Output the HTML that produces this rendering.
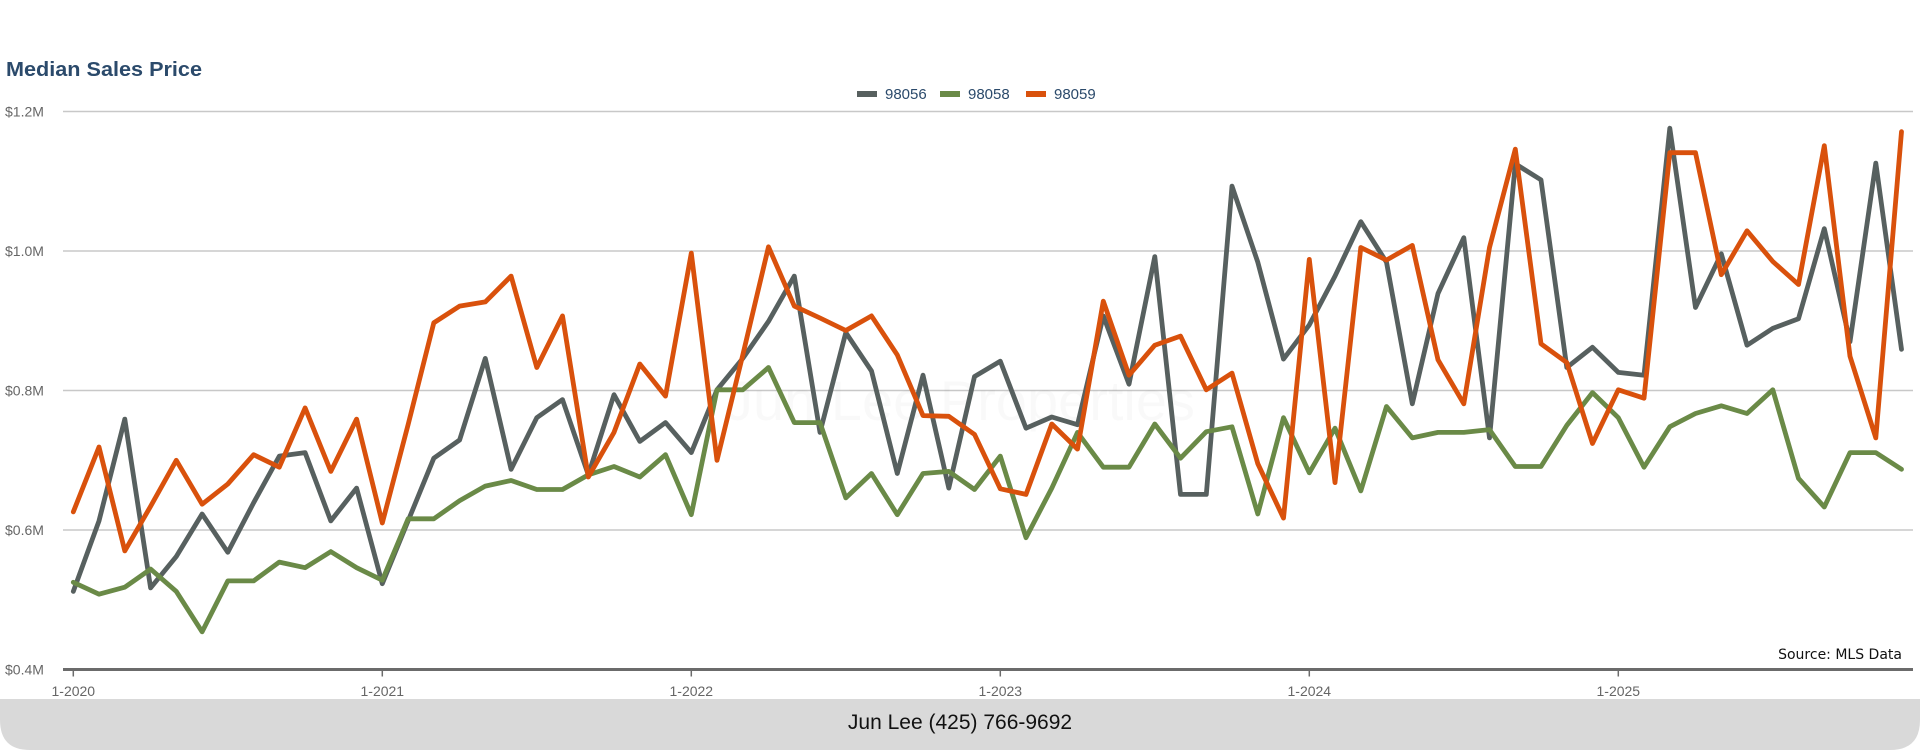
<!DOCTYPE html>
<html><head><meta charset="utf-8"><style>
html,body{margin:0;padding:0;background:#fff;width:1920px;height:750px;overflow:hidden;font-family:"Liberation Sans",sans-serif}
</style></head><body>
<svg id="chart" width="1920" height="750" viewBox="0 0 1920 750" xmlns="http://www.w3.org/2000/svg">
<text x="6" y="76" font-family="Liberation Sans, sans-serif" font-weight="bold" font-size="20" fill="#2b4a6b" textLength="196" lengthAdjust="spacingAndGlyphs">Median Sales Price</text>
<g id="legend"></g>
<g id="grid"></g>
<text x="960" y="420" text-anchor="middle" font-family="Liberation Sans, sans-serif" font-size="56" fill="#000" fill-opacity="0.025">Jun Lee Properties</text>
<g id="series"></g>
<text x="1902" y="659" text-anchor="end" font-family="DejaVu Sans, sans-serif" font-size="14" fill="#111">Source: MLS Data</text>
<path d="M0 699 H1920 V720 Q1920 750 1890 750 H30 Q0 750 0 720 Z" fill="#d9d9d9"/>
<text x="960" y="729" text-anchor="middle" font-family="Liberation Sans, sans-serif" font-size="21" fill="#111">Jun Lee (425) 766-9692</text>
</svg>
<script>
const seriesNames = ["98056","98058","98059"];
const seriesColors = ["#57605f","#6a8a47","#d9510c"];
const yTicks = [400,600,800,1000,1200];
const yTickLabels = ["$0.4M","$0.6M","$0.8M","$1.0M","$1.2M"];
const xTickLabels = ["1-2020","1-2021","1-2022","1-2023","1-2024","1-2025"];
const s98056 = [512,613,759,517,562,623,568,639,706,711,613,660,523,613,703,729,846,687,761,787,679,794,727,754,711,801,846,899,964,740,883,828,681,822,660,820,842,746,762,751,907,809,992,651,651,1093,984,845,894,964,1042,984,781,939,1019,732,1125,1102,833,862,826,822,1176,919,996,865,889,903,1032,870,1126,859];
const s98058 = [525,508,518,544,512,454,527,527,554,546,569,546,528,616,616,642,663,671,658,658,679,691,676,708,622,801,801,833,754,754,646,681,622,681,684,658,706,589,660,740,690,690,752,703,741,748,623,761,682,746,656,777,732,740,740,744,691,691,750,797,761,690,748,767,778,767,801,674,633,711,711,687];
const s98059 = [626,719,570,634,700,637,666,708,690,775,684,759,610,751,897,921,927,964,833,907,676,740,838,792,997,700,851,1006,921,904,886,907,851,764,763,737,659,651,752,716,928,822,865,878,801,825,695,617,988,668,1005,987,1008,844,781,1005,1146,867,840,724,801,789,1141,1141,966,1029,985,952,1151,849,732,1171];
const allSeries = [s98056,s98058,s98059];

const NS="http://www.w3.org/2000/svg";
const X0=73.3, XSTEP=25.75, YBOT=669.5, YTOP=111.5, VMIN=400, VMAX=1200;
function xScale(i){return X0+i*XSTEP;}
function yScale(v){return YBOT-(v-VMIN)/(VMAX-VMIN)*(YBOT-YTOP);}
function mk(tag,attrs,parent){const e=document.createElementNS(NS,tag);for(const k in attrs)e.setAttribute(k,attrs[k]);parent.appendChild(e);return e;}

const grid=document.getElementById('grid');
yTicks.forEach((v,k)=>{
  const y=yScale(v);
  const ln=mk('line',{x1:63,x2:1913,y1:y,y2:y,stroke:k===0?'#6b6b6b':'#c8c8c8','stroke-width':k===0?3:1.5},grid);
  
  
  const t=mk('text',{x:5,y:y+5,'font-size':14,fill:'#666','font-family':'Liberation Sans, sans-serif'},grid);
  t.textContent=yTickLabels[k];
  
  
});
xTickLabels.forEach((lab,k)=>{
  const x=xScale(k*12);
  const tk=mk('line',{x1:x,x2:x,y1:YBOT,y2:YBOT+7,stroke:'#6b6b6b','stroke-width':1.5},grid);
  
  
  const t=mk('text',{x:x,y:696,'text-anchor':'middle','font-size':14,fill:'#666','font-family':'Liberation Sans, sans-serif'},grid);
  t.textContent=lab;
  
  
});

const sg=document.getElementById('series');
allSeries.forEach((arr,si)=>{
  const d=arr.map((v,i)=>(i?'L':'M')+xScale(i).toFixed(1)+' '+yScale(v).toFixed(1)).join(' ');
  const p=mk('path',{d:d,fill:'none',stroke:seriesColors[si],'stroke-width':4.8,'stroke-linejoin':'round','stroke-linecap':'round'},sg);
  
  
});

const lg=document.getElementById('legend');
const legendX=[857,940,1026];
seriesNames.forEach((n,si)=>{
  const r=mk('rect',{x:legendX[si],y:91,width:20,height:6,fill:seriesColors[si]},lg);
  
  
  const t=mk('text',{x:legendX[si]+28,y:99,'font-size':15,fill:'#2b4a6b','font-family':'Liberation Sans, sans-serif'},lg);
  t.textContent=n;
  
  
});
</script>
</body></html>
